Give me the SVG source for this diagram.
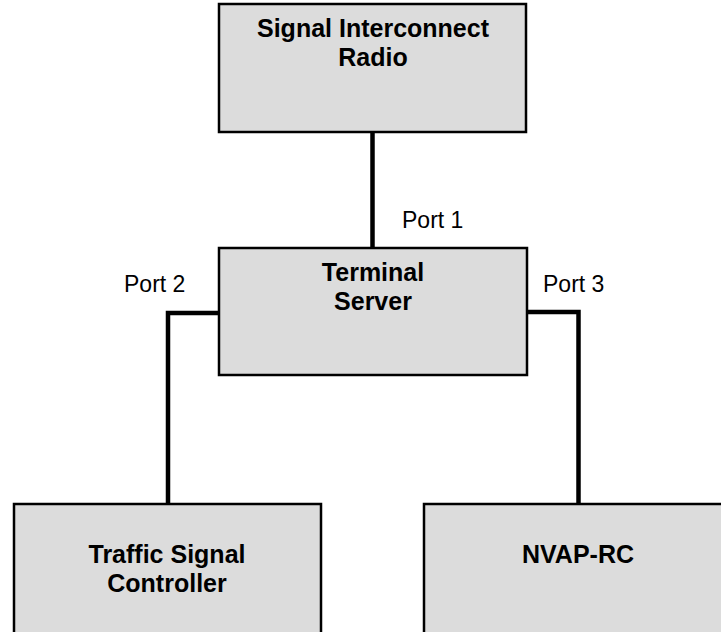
<svg xmlns="http://www.w3.org/2000/svg" width="721" height="632" viewBox="0 0 721 632">
<style>
.box{fill:#dcdcdc;stroke:#000;stroke-width:2.5}
.conn{fill:none;stroke:#000;stroke-width:4.5}
.t{font-family:"Liberation Sans",Arial,sans-serif;font-weight:bold;font-size:25px;text-anchor:middle;fill:#000}
.p{font-family:"Liberation Sans",Arial,sans-serif;font-size:23px;fill:#000}
</style>
<rect width="721" height="632" fill="#fff"/>
<g id="connectors">
<line class="conn" x1="372.5" y1="132" x2="372.5" y2="248"/>
<polyline class="conn" points="219,313 168,313 168,504"/>
<polyline class="conn" points="527,312 578.5,312 578.5,504"/>
</g>
<g id="radio">
<rect class="box" x="219" y="4" width="307" height="128"/>
<text class="t" x="373" y="37">Signal Interconnect</text>
<text class="t" x="373" y="66">Radio</text>
</g>
<g id="server">
<rect class="box" x="219" y="248" width="308" height="127"/>
<text class="t" x="373" y="281">Terminal</text>
<text class="t" x="373" y="310">Server</text>
</g>
<g id="controller">
<rect class="box" x="14" y="504" width="307" height="140"/>
<text class="t" x="167" y="563">Traffic Signal</text>
<text class="t" x="167" y="592">Controller</text>
</g>
<g id="nvap">
<rect class="box" x="424" y="504" width="310" height="140"/>
<text class="t" x="578" y="563">NVAP-RC</text>
</g>
<g id="labels">
<text class="p" x="402" y="228">Port 1</text>
<text class="p" x="124" y="292">Port 2</text>
<text class="p" x="543" y="292">Port 3</text>
</g>
</svg>
